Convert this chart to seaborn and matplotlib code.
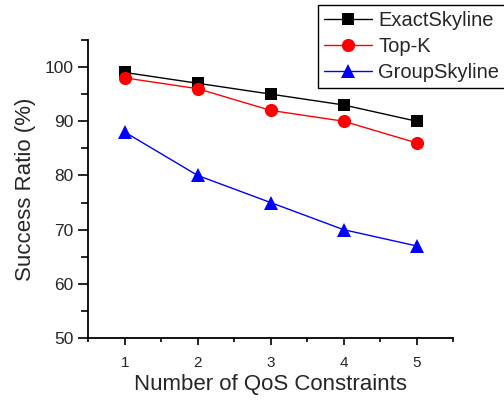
import pandas as pd
import matplotlib
matplotlib.use("Agg")
import matplotlib.pyplot as plt
import seaborn as sns
from matplotlib.ticker import MultipleLocator

# -------------------------------
# Data
# -------------------------------
constraints = [1, 2, 3, 4, 5]
exact_skyline = [99, 97, 95, 93, 90]
top_k = [98, 96, 92, 90, 86]
group_skyline = [88, 80, 75, 70, 67]

series_names = ["ExactSkyline", "Top-K", "GroupSkyline"]
colors = {"ExactSkyline": "#000000", "Top-K": "#FF0000", "GroupSkyline": "#0000FF"}
markers = {"ExactSkyline": "s", "Top-K": "o", "GroupSkyline": "^"}
sizes = {"ExactSkyline": 9, "Top-K": 9.5, "GroupSkyline": 10}

df = pd.DataFrame({
    "x": constraints * 3,
    "ratio": exact_skyline + top_k + group_skyline,
    "method": [n for n in series_names for _ in constraints],
})

sns.set_style("ticks")
plt.rcParams["font.family"] = ["Liberation Sans", "DejaVu Sans"]

fig = plt.figure(figsize=(5.04, 4.03), dpi=100)
ax = fig.add_axes([0.175, 0.161, 0.724, 0.740])

for name in series_names:
    sub = df[df["method"] == name]
    sns.lineplot(data=sub, x="x", y="ratio", ax=ax, color=colors[name],
                 marker=markers[name], markersize=sizes[name],
                 markeredgewidth=0, linewidth=1, label=name, legend=False)

ax.set_xlim(0.5, 5.5)
ax.set_ylim(50, 105)
ax.xaxis.set_major_locator(MultipleLocator(1))
ax.xaxis.set_minor_locator(MultipleLocator(0.5))
ax.yaxis.set_major_locator(MultipleLocator(10))
ax.yaxis.set_minor_locator(MultipleLocator(5))
ax.tick_params(axis="x", which="major", direction="out", length=5, width=1.2,
               color="black", labelsize=11, pad=8)
ax.tick_params(axis="x", which="minor", direction="out", length=3, width=1.2,
               color="black")
ax.tick_params(axis="y", which="major", direction="out", length=7, width=1.2,
               color="black", labelsize=12.5)
ax.tick_params(axis="y", which="minor", direction="out", length=5, width=1.2,
               color="black")

for side in ["left", "bottom"]:
    ax.spines[side].set_linewidth(1.3)
    ax.spines[side].set_color("black")
sns.despine(ax=ax)

ax.set_xlabel("Number of QoS Constraints", fontsize=16, labelpad=3)
ax.set_ylabel("Success Ratio (%)", fontsize=16, labelpad=6)

handles, labels = ax.get_legend_handles_labels()
leg = fig.legend(handles, labels, loc="upper left",
                 bbox_to_anchor=(318 / 504, 1 - 5 / 403),
                 fontsize=14.5, frameon=True, fancybox=False,
                 handlelength=2.4, handletextpad=0.3, labelspacing=0.35,
                 borderpad=0.3, borderaxespad=0)
leg.get_frame().set_edgecolor("black")
leg.get_frame().set_linewidth(1)
leg.get_frame().set_alpha(1)

fig.savefig("out.png", dpi=100)
